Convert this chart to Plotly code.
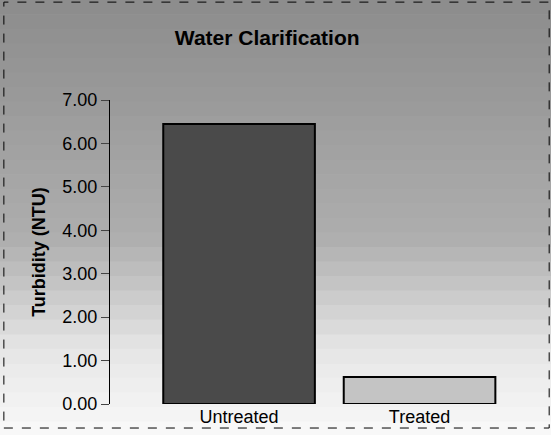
import plotly.graph_objects as go

categories = ["Untreated", "Treated"]
turbidity = [6.45, 0.62]
tick_vals = [0, 1, 2, 3, 4, 5, 6, 7]
tick_text = ["0.00", "1.00", "2.00", "3.00", "4.00", "5.00", "6.00", "7.00"]

fig = go.Figure()
fig.add_trace(go.Bar(
    x=[0, 1], y=turbidity, width=0.84,
    marker=dict(color=["#4a4a4a", "#c4c4c4"], line=dict(color="black", width=2)),
))

# decorative background gradient across the whole figure (paper coords)
shapes = []
top, bottom = 1.33, -0.105
n = 30
for i in range(n):
    f0 = i / n
    f1 = (i + 1) / n
    ya = top - (top - bottom) * f0
    yb = top - (top - bottom) * f1
    fm = (f0 + f1) / 2
    if fm < 0.55:
        g = 140 + int(35 * fm / 0.55)
    elif fm < 0.8:
        g = 175 + int(55 * (fm - 0.55) / 0.25)
    else:
        g = 230 + int(20 * (fm - 0.8) / 0.2)
    g = min(g, 250)
    shapes.append(dict(type="rect", xref="paper", yref="paper", x0=-0.26, x1=1.02, y0=yb - 0.002, y1=ya,
                       fillcolor=f"rgb({g},{g},{g})", line=dict(width=0), layer="below"))

fig.update_layout(
    width=551, height=435,
    margin=dict(l=110, r=6, t=100, b=31, autoexpand=False),
    paper_bgcolor="#bbbbbb",
    plot_bgcolor="rgba(0,0,0,0)",
    showlegend=False,
    title=dict(text="<b>Water Clarification</b>", x=0.485, xanchor="center", y=0.913, yanchor="middle",
               font=dict(family="Arial, Liberation Sans", size=21, color="black")),
    font=dict(family="Arial, Liberation Sans", size=18, color="black"),
    xaxis=dict(range=[-0.715, 1.695], tickvals=[0, 1], ticktext=categories, showgrid=False,
               showline=False, zeroline=False, ticks="", tickfont=dict(size=18), automargin=False),
    yaxis=dict(range=[0, 7], tickvals=tick_vals, ticktext=tick_text, showgrid=False, zeroline=False,
               showline=True, linecolor="black", linewidth=1, ticks="outside", ticklen=8,
               tickfont=dict(size=18), automargin=False,
               title=dict(text="<b>Turbidity (NTU)</b>", font=dict(size=18), standoff=12)),
    shapes=shapes + [dict(type="rect", xref="paper", yref="paper", x0=-0.244, x1=1.0096, y0=-0.079, y1=1.322,
                          line=dict(color="black", width=1, dash="dash"), fillcolor="rgba(0,0,0,0)")],
)
fig.write_html("out.html", config={"displayModeBar": False},
               post_script="document.body.style.margin='0';document.body.style.overflow='hidden';")
